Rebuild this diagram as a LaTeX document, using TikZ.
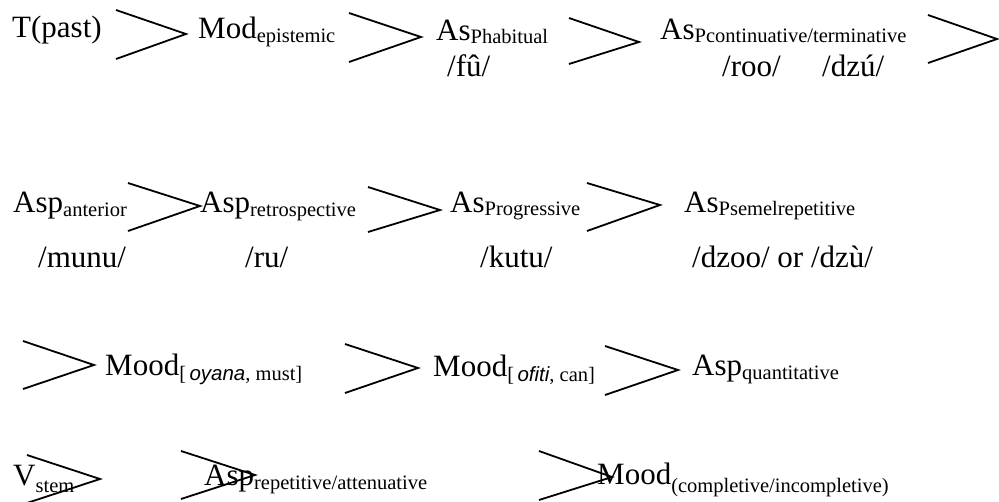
\documentclass[tikz,border=0pt]{standalone}
\usepackage{fontspec}
\setmainfont{Liberation Serif}
\newfontfamily\glossfont{Liberation Sans}
\newcommand{\lo}[2]{\raisebox{-#1pt}{\fontsize{20.5}{24}\selectfont #2}}
\newcommand{\gl}[1]{{\glossfont\itshape #1}}

\begin{document}
\begin{tikzpicture}[x=1pt,y=-1pt]
	\tikzstyle{headStyle}=[anchor=base west, inner sep=0pt, font=\rmfamily\fontsize{31}{36}\selectfont]
	\tikzstyle{chevStyle}=[line width=1.8pt, line join=miter]
	\useasboundingbox (0,0) rectangle (999,501);
	\node[headStyle] (tpast) at (12,37) {T(past)};
	\node[headStyle] (modepi) at (198,38) {Mod\lo{4}{epistemic}};
	\node[headStyle] (asphab) at (436,40) {As\lo{3}{Phabitual}};
	\node[headStyle] (aspcont) at (660,39) {As\lo{3}{Pcontinuative/terminative}};
	\node[headStyle] (fu) at (447,76) {/fû/};
	\node[headStyle] (roo) at (722,76) {/roo/};
	\node[headStyle] (dzu) at (822,76) {/dzú/};
	\node[headStyle] (aspant) at (13,212) {Asp\lo{4}{anterior}};
	\node[headStyle] (asprel) at (200,212) {Asp\lo{4}{retrospective}};
	\node[headStyle] (aspprog) at (450,212) {As\lo{3}{Progressive}};
	\node[headStyle] (aspsem) at (684,212) {As\lo{3}{Psemelrepetitive}};
	\node[headStyle] (munu) at (38,267) {/munu/};
	\node[headStyle] (ru) at (245,267) {/ru/};
	\node[headStyle] (kutu) at (480,267) {/kutu/};
	\node[headStyle] (dzoo) at (692,267) {/dzoo/ or /dzù/};
	\node[headStyle] (moodmust) at (105,375) {Mood\lo{5}{[\,\gl{oyana}, must]}};
	\node[headStyle] (moodcan) at (433,376) {Mood\lo{5}{[\,\gl{ofiti}, can]}};
	\node[headStyle] (aspquant) at (692,375) {Asp\lo{4}{quantitative}};
	\node[headStyle] (vstem) at (13,485) {V\lo{7}{stem}};
	\node[headStyle] (asprep) at (204,485) {Asp\lo{4}{repetitive/attenuative}};
	\node[headStyle] (moodcomp) at (597,484) {Mood\lo{8}{(completive/incompletive)}};
	\draw[chevStyle] (116,10) -- (186,34) -- (116,59);
	\draw[chevStyle] (349,13) -- (421,37) -- (349,62);
	\draw[chevStyle] (569,18) -- (639,42) -- (569,64);
	\draw[chevStyle] (928,15) -- (997,39) -- (928,63);
	\draw[chevStyle] (128,183) -- (200,206) -- (128,231);
	\draw[chevStyle] (368,187) -- (440,210) -- (368,232);
	\draw[chevStyle] (587,183) -- (660,205) -- (587,231);
	\draw[chevStyle] (23,341) -- (94,365) -- (23,389);
	\draw[chevStyle] (345,344) -- (418,368) -- (345,393);
	\draw[chevStyle] (605,346) -- (678,370) -- (605,395);
	\draw[chevStyle] (27,455) -- (100,479) -- (27,503);
	\draw[chevStyle] (181,451) -- (255,475) -- (181,499);
	\draw[chevStyle] (539,451) -- (612,477) -- (539,500);
\end{tikzpicture}
\end{document}
